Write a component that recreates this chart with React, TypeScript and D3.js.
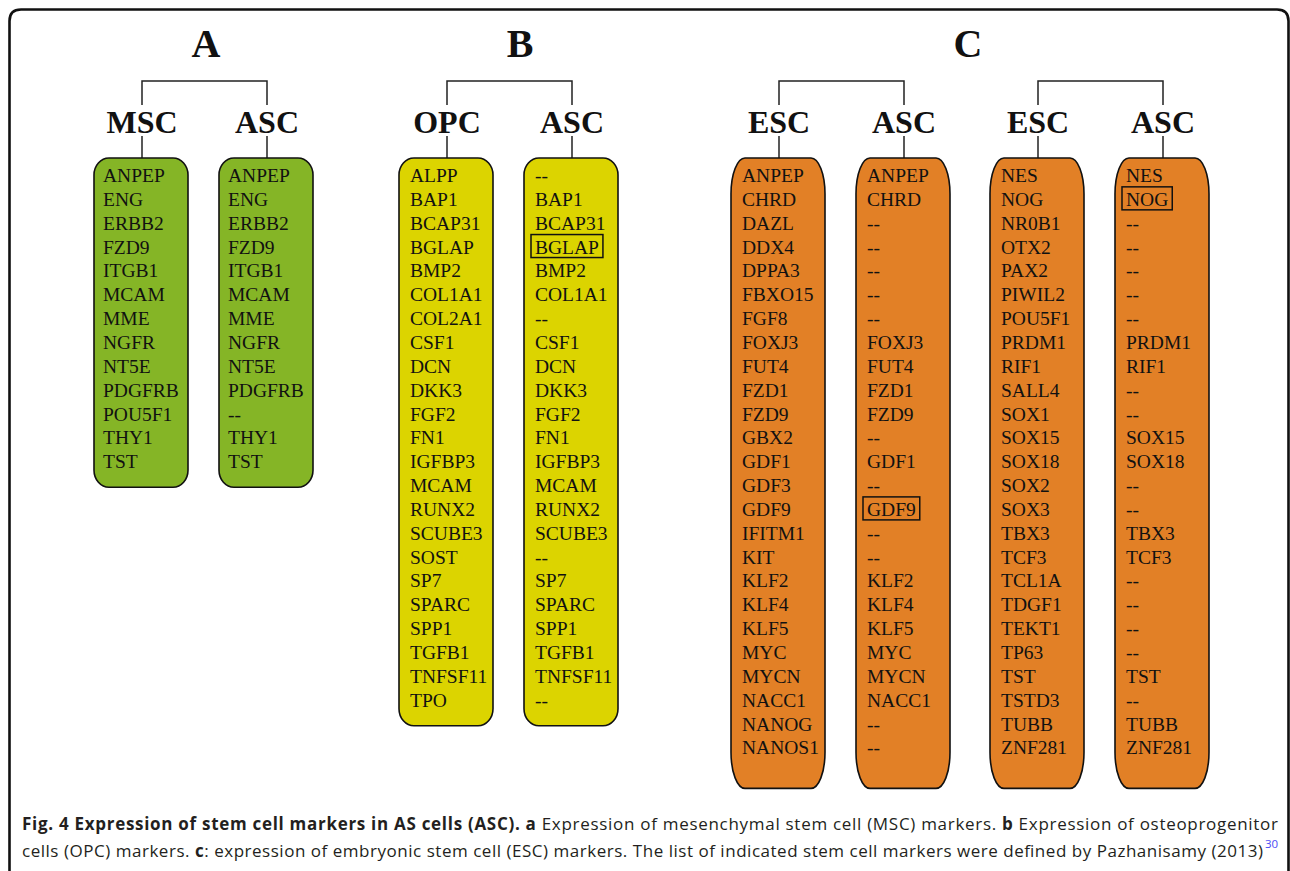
import * as d3 from 'd3';

// panel letters and column headers
const panelLetters = ['A', 'B', 'C'];
const panelLetterX = [206, 520, 968];

// A: mesenchymal stem cell markers
const mscMarkers = ['ANPEP', 'ENG', 'ERBB2', 'FZD9', 'ITGB1', 'MCAM', 'MME', 'NGFR', 'NT5E', 'PDGFRB', 'POU5F1', 'THY1', 'TST'];
const ascMarkersA = ['ANPEP', 'ENG', 'ERBB2', 'FZD9', 'ITGB1', 'MCAM', 'MME', 'NGFR', 'NT5E', 'PDGFRB', '--', 'THY1', 'TST'];

// B: osteoprogenitor markers
const opcMarkers = ['ALPP', 'BAP1', 'BCAP31', 'BGLAP', 'BMP2', 'COL1A1', 'COL2A1', 'CSF1', 'DCN', 'DKK3', 'FGF2', 'FN1', 'IGFBP3', 'MCAM', 'RUNX2', 'SCUBE3', 'SOST', 'SP7', 'SPARC', 'SPP1', 'TGFB1', 'TNFSF11', 'TPO'];
const ascMarkersB = ['--', 'BAP1', 'BCAP31', 'BGLAP', 'BMP2', 'COL1A1', '--', 'CSF1', 'DCN', 'DKK3', 'FGF2', 'FN1', 'IGFBP3', 'MCAM', 'RUNX2', 'SCUBE3', '--', 'SP7', 'SPARC', 'SPP1', 'TGFB1', 'TNFSF11', '--'];

// C: embryonic stem cell markers (two halves)
const escMarkers1 = ['ANPEP', 'CHRD', 'DAZL', 'DDX4', 'DPPA3', 'FBXO15', 'FGF8', 'FOXJ3', 'FUT4', 'FZD1', 'FZD9', 'GBX2', 'GDF1', 'GDF3', 'GDF9', 'IFITM1', 'KIT', 'KLF2', 'KLF4', 'KLF5', 'MYC', 'MYCN', 'NACC1', 'NANOG', 'NANOS1'];
const ascMarkersC1 = ['ANPEP', 'CHRD', '--', '--', '--', '--', '--', 'FOXJ3', 'FUT4', 'FZD1', 'FZD9', '--', 'GDF1', '--', 'GDF9', '--', '--', 'KLF2', 'KLF4', 'KLF5', 'MYC', 'MYCN', 'NACC1', '--', '--'];
const escMarkers2 = ['NES', 'NOG', 'NR0B1', 'OTX2', 'PAX2', 'PIWIL2', 'POU5F1', 'PRDM1', 'RIF1', 'SALL4', 'SOX1', 'SOX15', 'SOX18', 'SOX2', 'SOX3', 'TBX3', 'TCF3', 'TCL1A', 'TDGF1', 'TEKT1', 'TP63', 'TST', 'TSTD3', 'TUBB', 'ZNF281'];
const ascMarkersC2 = ['NES', 'NOG', '--', '--', '--', '--', '--', 'PRDM1', 'RIF1', '--', '--', 'SOX15', 'SOX18', '--', '--', 'TBX3', 'TCF3', '--', '--', '--', '--', 'TST', '--', 'TUBB', 'ZNF281'];

// markers that are framed in the ASC lists
const framedMarkers = ['BGLAP', 'GDF9', 'NOG'];

const panelColors = ['#85b526', '#dcd400', '#e28026'];

// pairs: [panel index, left header, left list, right header, right list, bracket left x]
const pairs: [number, string, string[], string, string[], number][] = [
    [0, 'MSC', mscMarkers, 'ASC', ascMarkersA, 142],
    [1, 'OPC', opcMarkers, 'ASC', ascMarkersB, 447],
    [2, 'ESC', escMarkers1, 'ASC', ascMarkersC1, 779],
    [2, 'ESC', escMarkers2, 'ASC', ascMarkersC2, 1038],
];

const SERIF = "'Liberation Serif', 'Times New Roman', serif";
const MARKER_FONT = 19.5;

let measureCtx: CanvasRenderingContext2D | null = null;
function textWidth(s: string, font: string) {
    if (!measureCtx) measureCtx = document.createElement('canvas').getContext('2d');
    if (!measureCtx) return s.length * 11;
    measureCtx.font = font;
    return measureCtx.measureText(s).width;
}

export default function App() {
    const width = 1290;
    const height = 871;

    const pairGap = 125;
    const bracketY = 81;
    const headerY = 133;
    const boxTop = 158;
    const boxWidth = 94;

    // row index -> baseline
    const rowY = d3.scaleLinear().domain([0, 1]).range([182, 205.85]);

    const markerFont = `${MARKER_FONT}px ${SERIF}`;

    return (
        <svg width={width} height={height} style={{ position: 'absolute', left: 0, top: 0, background: '#fff' }}>
            {/* outer frame */}
            <path
                d={`M9.5,${height + 5} L9.5,21 Q9.5,9.5 21,9.5 L1277,9.5 Q1288.5,9.5 1288.5,21 L1288.5,${height + 5}`}
                fill="none" stroke="#111" strokeWidth={2.6}
            />

            {panelLetters.map((l, i) => (
                <text key={l} x={panelLetterX[i]} y={57} textAnchor="middle" fontFamily={SERIF} fontWeight={700} fontSize={40} fill="#111">{l}</text>
            ))}

            {pairs.map(([panel, leftHead, leftList, rightHead, rightList, x0], pi) => {
                const cols: [string, string[], number][] = [
                    [leftHead, leftList, x0],
                    [rightHead, rightList, x0 + pairGap],
                ];
                const n = leftList.length;
                const lastY = rowY(n - 1);
                const boxBottom = lastY + (panel === 2 ? 34 : 19);
                const rx = panel === 2 ? 14 : 15;
                const ry = panel === 2 ? 36 : 17;
                const indent = panel === 0 ? 9 : 11;
                return (
                    <g key={pi}>
                        <path d={`M${x0},105 V${bracketY} H${x0 + pairGap} V105`} fill="none" stroke="#222" strokeWidth={1.5} />
                        {cols.map(([head, list, cx], ci) => {
                            const left = cx - 48;
                            const textX = left + indent;
                            return (
                                <g key={ci}>
                                    <text x={cx} y={headerY} textAnchor="middle" fontFamily={SERIF} fontWeight={700} fontSize={32} fill="#111">{head}</text>
                                    <line x1={cx} x2={cx} y1={136} y2={boxTop} stroke="#222" strokeWidth={1.5} />
                                    <rect x={left} y={boxTop} width={boxWidth} height={boxBottom - boxTop} rx={rx} ry={ry}
                                        fill={panelColors[panel]} stroke="#111" strokeWidth={1.6} />
                                    {list.map((m, ri) => {
                                        const y = rowY(ri);
                                        const framed = ci === 1 && framedMarkers.includes(m);
                                        const w = textWidth(m, markerFont);
                                        return (
                                            <g key={ri}>
                                                {framed && (
                                                    <rect x={textX - 4} y={y - 19} width={w + 8} height={23} fill="none" stroke="#111" strokeWidth={1.5} />
                                                )}
                                                <text x={textX} y={y} fontFamily={SERIF} fontSize={MARKER_FONT} fill="#111">{m}</text>
                                            </g>
                                        );
                                    })}
                                </g>
                            );
                        })}
                    </g>
                );
            })}

            {/* caption */}
            <g fontFamily="'Open Sans', 'Noto Sans', sans-serif" fontSize={17} fill="#231f20">
                <text x={22} y={830} textLength={1256} lengthAdjust="spacing">
                    <tspan fontWeight={700}>Fig. 4 Expression of stem cell markers in AS cells (ASC). a</tspan>
                    <tspan> Expression of mesenchymal stem cell (MSC) markers. </tspan>
                    <tspan fontWeight={700}>b</tspan>
                    <tspan> Expression of osteoprogenitor</tspan>
                </text>
                <text x={22} y={857} textLength={1241} lengthAdjust="spacing">
                    <tspan>cells (OPC) markers. </tspan>
                    <tspan fontWeight={700}>c</tspan>
                    <tspan>: expression of embryonic stem cell (ESC) markers. The list of indicated stem cell markers were defined by Pazhanisamy (2013)</tspan>
                </text>
                <text x={1265} y={848} fontSize={11.5} fill="#4b4bf5">30</text>
            </g>
        </svg>
    );
}
